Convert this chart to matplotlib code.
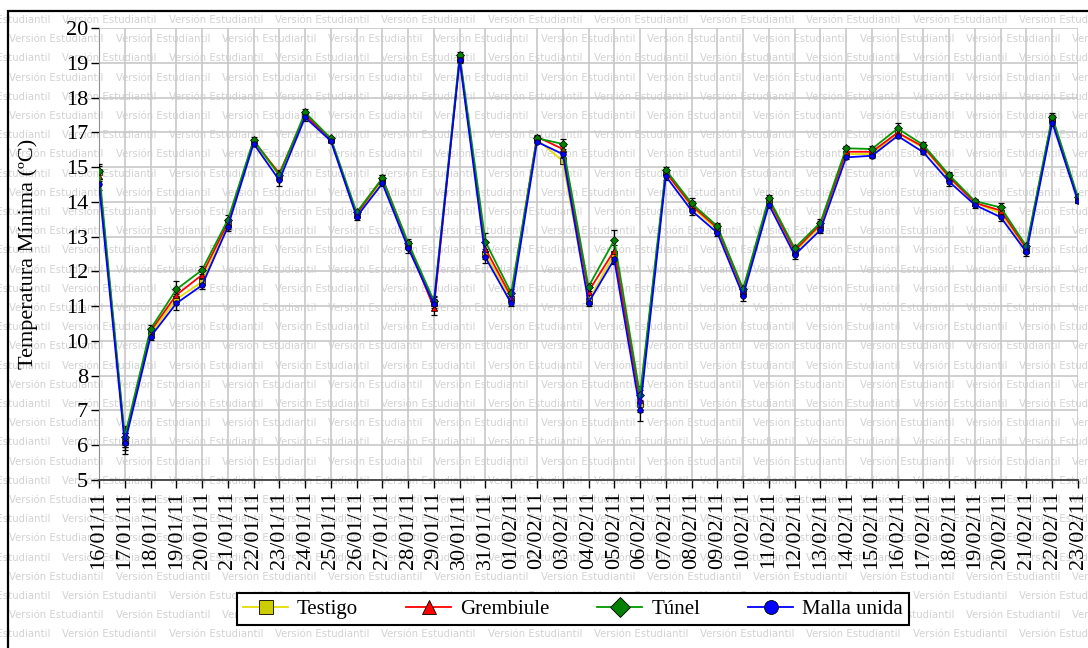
import matplotlib
matplotlib.use('Agg')
import matplotlib.pyplot as plt
from matplotlib.lines import Line2D
from matplotlib.patches import Rectangle
import numpy as np
import pandas as pd

plt.rcParams['font.family'] = ['Liberation Serif', 'DejaVu Serif']

dates = pd.date_range('2011-01-16', '2011-02-23').strftime('%d/%m/%y').tolist()

# tick labels as printed on the original y axis (16 and 9 are missing there)
y_ticks = [5, 6, 7, 8, 10, 11, 12, 13, 14, 15, 17, 18, 19, 20]

testigo = [14.85, 6.10, 10.20, 11.20, 11.70, 13.35, 16.45, 14.75, 17.50, 16.55,
           13.62, 14.60, 12.75, 11.10, 19.12, 12.50, 11.20, 16.60, 15.35, 11.15,
           12.50, 7.20, 14.85, 13.85, 13.20, 11.40, 14.00, 12.55, 13.30, 15.75,
           15.75, 16.95, 16.10, 14.68, 13.98, 13.67, 12.62, 17.38, 14.05]
grembiule = [14.75, 6.15, 10.28, 11.32, 11.90, 13.40, 16.50, 14.82, 17.50, 16.60,
             13.65, 14.68, 12.78, 10.95, 19.15, 12.65, 11.27, 16.74, 16.04, 11.42,
             12.60, 7.30, 14.85, 13.90, 13.25, 11.45, 14.05, 12.60, 13.35, 15.88,
             15.88, 16.98, 16.17, 14.72, 13.97, 13.75, 12.66, 17.40, 14.08]
tunel = [14.90, 6.25, 10.34, 11.48, 12.04, 13.48, 16.56, 14.77, 17.57, 16.65,
         13.70, 14.68, 12.82, 11.15, 19.22, 12.85, 11.38, 16.66, 16.33, 11.56,
         12.90, 7.44, 14.92, 13.96, 13.30, 11.50, 14.10, 12.67, 13.40, 16.08,
         16.04, 17.11, 16.27, 14.77, 14.02, 13.84, 12.72, 17.45, 14.13]
malla = [14.50, 6.05, 10.12, 11.08, 11.60, 13.28, 16.35, 14.62, 17.43, 16.50,
         13.57, 14.53, 12.67, 11.05, 19.08, 12.40, 11.08, 16.45, 15.75, 11.10,
         12.35, 7.01, 14.74, 13.75, 13.11, 11.30, 13.92, 12.47, 13.19, 15.56,
         15.65, 16.79, 15.85, 14.58, 13.91, 13.56, 12.55, 17.28, 14.02]

err_testigo = [0.20, 0.25, 0.12, 0.15, 0.10, 0.12, 0.12, 0.12, 0.08, 0.06,
               0.06, 0.06, 0.12, 0.15, 0.08, 0.15, 0.06, 0.06, 0.20, 0.10,
               0.25, 0.25, 0.06, 0.10, 0.08, 0.12, 0.08, 0.08, 0.10, 0.12,
               0.12, 0.10, 0.15, 0.08, 0.06, 0.10, 0.08, 0.08, 0.06]
err_grembiule = [0.15, 0.20, 0.10, 0.20, 0.12, 0.10, 0.10, 0.10, 0.08, 0.06,
                 0.06, 0.08, 0.10, 0.20, 0.10, 0.20, 0.08, 0.08, 0.20, 0.12,
                 0.30, 0.30, 0.08, 0.12, 0.10, 0.15, 0.10, 0.10, 0.10, 0.15,
                 0.10, 0.12, 0.12, 0.10, 0.06, 0.10, 0.10, 0.10, 0.06]
err_tunel = [0.25, 0.30, 0.12, 0.25, 0.12, 0.15, 0.15, 0.10, 0.10, 0.08,
             0.06, 0.08, 0.12, 0.15, 0.10, 0.25, 0.10, 0.10, 0.30, 0.12,
             0.30, 0.25, 0.08, 0.15, 0.10, 0.12, 0.10, 0.10, 0.12, 0.15,
             0.15, 0.15, 0.15, 0.10, 0.06, 0.12, 0.10, 0.10, 0.08]
err_malla = [0.15, 0.30, 0.10, 0.20, 0.10, 0.12, 0.12, 0.15, 0.10, 0.08,
             0.08, 0.06, 0.15, 0.15, 0.10, 0.15, 0.08, 0.08, 0.15, 0.10,
             0.15, 0.30, 0.10, 0.12, 0.08, 0.15, 0.10, 0.12, 0.10, 0.10,
             0.10, 0.10, 0.10, 0.12, 0.08, 0.10, 0.10, 0.10, 0.06]

names = ['Testigo', 'Grembiule', 'Túnel', 'Malla unida']
series = [testigo, grembiule, tunel, malla]
errors = [err_testigo, err_grembiule, err_tunel, err_malla]
line_colors = ['#e6dc00', '#ff0000', '#009900', '#0000ff']
face_colors = ['#cccc00', '#ff0000', '#008000', '#0000ff']
markers = ['s', '^', 'D', 'o']

W, H = 1088, 648
fig = plt.figure(figsize=(W / 100, H / 100), dpi=100)
fig.patch.set_facecolor('white')

# watermark rows
for k in range(34):
    ypx = 20 + 19.2 * k
    x0 = -44 if k % 2 == 0 else -97
    for n in range(12):
        fig.text((x0 + 106.3 * n) / W, 1 - ypx / H, 'Versión Estudiantil',
                 family='DejaVu Sans', fontsize=7.3, color='#d2d2d2',
                 ha='left', va='center', zorder=-5)

fig.patches.append(Rectangle((8 / W, -0.05), 1.2, 1 - 11 / H + 0.05,
                             transform=fig.transFigure, fill=False,
                             edgecolor='black', lw=1.6, zorder=-1))

ax = fig.add_axes([99 / W, 1 - 480 / H, 979 / W, 452 / H])
ax.set_facecolor('none')

pos = np.arange(len(y_ticks))


def fwd(v):
    return np.interp(v, y_ticks, pos)


def inv(p):
    return np.interp(p, pos, y_ticks)


ax.set_yscale('function', functions=(fwd, inv))

x = np.arange(len(dates))
for vals, err, lc, fc, mk in zip(series, errors, line_colors, face_colors, markers):
    ax.errorbar(x, vals, yerr=err, fmt='none', ecolor='black',
                elinewidth=0.9, capsize=2, capthick=0.9, zorder=3)
    ax.plot(x, vals, color=lc, lw=1.3, marker=mk, ms=4, mfc=fc,
            mec='black', mew=0.5, zorder=4)

ax.set_xlim(0, len(dates) - 1)
ax.set_ylim(5, 20)
ax.set_yticks(y_ticks)
ax.set_yticklabels([str(t) for t in y_ticks])
ax.minorticks_off()
ax.set_xticks(x)
ax.set_xticklabels(dates, rotation=90)
ax.tick_params(axis='both', direction='out', length=6, width=1,
               color='black', labelsize=16, pad=2)
ax.grid(True, color='#c8c8c8', lw=1.2)
ax.set_axisbelow(True)
for s in ['top', 'right']:
    ax.spines[s].set_visible(False)
ax.spines['left'].set_color('#909090')
ax.spines['bottom'].set_color('#404040')
ax.spines['bottom'].set_linewidth(1.3)

ax.set_ylabel('Temperatura Mínima (ºC)', fontsize=16)
ax.yaxis.set_label_coords(-0.062, 0.5)

handles = [Line2D([], [], color=lc, lw=1.3, marker=mk, ms=10, mfc=fc,
                  mec='black', mew=0.6)
           for lc, fc, mk in zip(line_colors, face_colors, markers)]
leg = fig.legend(handles, names, loc='center',
                 bbox_to_anchor=(573 / W, 1 - 609 / H), ncol=4,
                 frameon=True, fancybox=False, edgecolor='black',
                 framealpha=1, fontsize=15, handlelength=2.16,
                 handletextpad=0.43, columnspacing=2.3, borderpad=0.3)
leg.get_frame().set_linewidth(1.5)

fig.savefig('out.png', dpi=100)
